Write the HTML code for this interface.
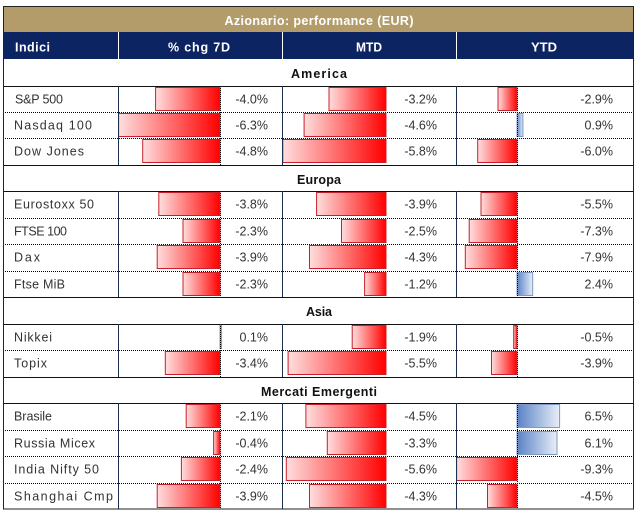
<!DOCTYPE html>
<html><head><meta charset="utf-8"><style>
html,body{margin:0;padding:0;background:#fff;}
svg{display:block;}
.lb{font-family:"Liberation Sans",sans-serif;font-size:12.5px;fill:#333;}
.v{font-family:"Liberation Sans",sans-serif;font-size:12.5px;fill:#333;text-anchor:end;}
.sec{font-family:"Liberation Sans",sans-serif;font-size:12.5px;font-weight:bold;fill:#111;text-anchor:middle;}
.hd{font-family:"Liberation Sans",sans-serif;font-size:12.5px;font-weight:bold;fill:#fff;}
</style></head><body>
<svg width="642" height="514" viewBox="0 0 642 514" xmlns="http://www.w3.org/2000/svg">
<defs>
<linearGradient id="r" x1="0" y1="0" x2="1" y2="0"><stop offset="0" stop-color="#ffdede"/><stop offset="1" stop-color="#ff0000"/></linearGradient>
<linearGradient id="b" x1="0" y1="0" x2="1" y2="0"><stop offset="0" stop-color="#5a82c6"/><stop offset="1" stop-color="#e8eef8"/></linearGradient>
</defs>
<rect x="0" y="0" width="642" height="514" fill="#fff"/>
<!-- title & header -->
<rect x="3" y="6" width="631" height="26" fill="#b39c69"/>
<rect x="3" y="32" width="631" height="27" fill="#0c2461"/>
<line x1="118.5" y1="32" x2="118.5" y2="59" stroke="#fff" stroke-width="1"/>
<line x1="282.5" y1="32" x2="282.5" y2="59" stroke="#fff" stroke-width="1"/>
<line x1="456.5" y1="32" x2="456.5" y2="59" stroke="#fff" stroke-width="1"/>
<text class="hd" x="319" y="25" text-anchor="middle" textLength="189" lengthAdjust="spacing">Azionario: performance (EUR)</text>
<text class="hd" x="15" y="51.5" textLength="35" lengthAdjust="spacing">Indici</text>
<text class="hd" x="199" y="51.5" text-anchor="middle" textLength="62" lengthAdjust="spacing">% chg 7D</text>
<text class="hd" x="369" y="51.5" text-anchor="middle" textLength="26" lengthAdjust="spacingAndGlyphs">MTD</text>
<text class="hd" x="544" y="51.5" text-anchor="middle" textLength="26" lengthAdjust="spacingAndGlyphs">YTD</text>

<!-- section titles -->
<text class="sec" x="319" y="78" textLength="56" lengthAdjust="spacing">America</text>
<text class="sec" x="319" y="184" textLength="44" lengthAdjust="spacing">Europa</text>
<text class="sec" x="319" y="316" textLength="26" lengthAdjust="spacing">Asia</text>
<text class="sec" x="319" y="396" textLength="116" lengthAdjust="spacing">Mercati Emergenti</text>

<!-- bars 7D -->
<g stroke="#c8202a" stroke-width="1" fill="url(#r)">
<rect x="155.6" y="87.5" width="64.4" height="23"/>
<rect x="118.6" y="113.5" width="101.4" height="23"/>
<rect x="142.7" y="139.5" width="77.3" height="23"/>
<rect x="158.8" y="192.5" width="61.2" height="23"/>
<rect x="183" y="219.5" width="37" height="23"/>
<rect x="157.2" y="245.5" width="62.8" height="23"/>
<rect x="183" y="272.5" width="37" height="23"/>
<rect x="165.3" y="351.5" width="54.7" height="23"/>
<rect x="186.2" y="404.5" width="33.8" height="23"/>
<rect x="213.6" y="431.5" width="6.4" height="23"/>
<rect x="181.4" y="457.5" width="38.6" height="23"/>
<rect x="157.2" y="484.5" width="62.8" height="23"/>
</g>
<!-- bars MTD -->
<g stroke="#c8202a" stroke-width="1" fill="url(#r)">
<rect x="329" y="87.5" width="57" height="23"/>
<rect x="304.1" y="113.5" width="81.9" height="23"/>
<rect x="282.8" y="139.5" width="103.2" height="23"/>
<rect x="316.6" y="192.5" width="69.4" height="23"/>
<rect x="341.5" y="219.5" width="44.5" height="23"/>
<rect x="309.5" y="245.5" width="76.5" height="23"/>
<rect x="364.6" y="272.5" width="21.4" height="23"/>
<rect x="352.2" y="325.5" width="33.8" height="23"/>
<rect x="288.1" y="351.5" width="97.9" height="23"/>
<rect x="305.9" y="404.5" width="80.1" height="23"/>
<rect x="327.3" y="431.5" width="58.7" height="23"/>
<rect x="286.3" y="457.5" width="99.7" height="23"/>
<rect x="309.5" y="484.5" width="76.5" height="23"/>
</g>
<!-- bars YTD -->
<g stroke="#c8202a" stroke-width="1" fill="url(#r)">
<rect x="498" y="87.5" width="19" height="23"/>
<rect x="477.7" y="139.5" width="39.3" height="23"/>
<rect x="481" y="192.5" width="36" height="23"/>
<rect x="469.2" y="219.5" width="47.8" height="23"/>
<rect x="465.3" y="245.5" width="51.7" height="23"/>
<rect x="513.7" y="325.5" width="3.3" height="23"/>
<rect x="491.5" y="351.5" width="25.5" height="23"/>
<rect x="456.6" y="457.5" width="60.4" height="23"/>
<rect x="487.5" y="484.5" width="29.5" height="23"/>
</g>
<g stroke="#7f98c4" stroke-width="1" fill="url(#b)">
<rect x="517" y="113.5" width="5.9" height="23"/>
<rect x="517" y="272.5" width="15.7" height="23"/>
<rect x="517" y="404.5" width="42.6" height="23"/>
<rect x="517" y="431.5" width="40" height="23"/>
<rect x="220" y="325.5" width="1.6" height="23"/>
</g>

<!-- axis dotted lines -->
<g stroke="#000" stroke-width="1" stroke-dasharray="1,1">
<line x1="220.5" y1="86" x2="220.5" y2="165"/>
<line x1="220.5" y1="191" x2="220.5" y2="297"/>
<line x1="220.5" y1="324" x2="220.5" y2="377"/>
<line x1="220.5" y1="403" x2="220.5" y2="509"/>
<line x1="517.5" y1="86" x2="517.5" y2="165"/>
<line x1="517.5" y1="191" x2="517.5" y2="297"/>
<line x1="517.5" y1="324" x2="517.5" y2="377"/>
<line x1="517.5" y1="403" x2="517.5" y2="509"/>
</g>

<!-- dotted row separators -->
<g stroke="#000" stroke-width="1" stroke-dasharray="1,1">
<line x1="3" y1="112.5" x2="634" y2="112.5"/>
<line x1="3" y1="138.5" x2="634" y2="138.5"/>
<line x1="3" y1="218.5" x2="634" y2="218.5"/>
<line x1="3" y1="244.5" x2="634" y2="244.5"/>
<line x1="3" y1="271.5" x2="634" y2="271.5"/>
<line x1="3" y1="350.5" x2="634" y2="350.5"/>
<line x1="3" y1="430.5" x2="634" y2="430.5"/>
<line x1="3" y1="456.5" x2="634" y2="456.5"/>
<line x1="3" y1="483.5" x2="634" y2="483.5"/>
</g>
<!-- solid separators -->
<g stroke="#111" stroke-width="1">
<line x1="3" y1="86.5" x2="634" y2="86.5"/>
<line x1="3" y1="165.5" x2="634" y2="165.5"/>
<line x1="3" y1="191.5" x2="634" y2="191.5"/>
<line x1="3" y1="297.5" x2="634" y2="297.5"/>
<line x1="3" y1="324.5" x2="634" y2="324.5"/>
<line x1="3" y1="377.5" x2="634" y2="377.5"/>
<line x1="3" y1="403.5" x2="634" y2="403.5"/>
</g>
<!-- column lines -->
<g stroke="#1b2f4e" stroke-width="1">
<line x1="118.5" y1="86" x2="118.5" y2="165"/><line x1="282.5" y1="86" x2="282.5" y2="165"/><line x1="456.5" y1="86" x2="456.5" y2="165"/>
<line x1="118.5" y1="191" x2="118.5" y2="297"/><line x1="282.5" y1="191" x2="282.5" y2="297"/><line x1="456.5" y1="191" x2="456.5" y2="297"/>
<line x1="118.5" y1="324" x2="118.5" y2="377"/><line x1="282.5" y1="324" x2="282.5" y2="377"/><line x1="456.5" y1="324" x2="456.5" y2="377"/>
<line x1="118.5" y1="403" x2="118.5" y2="509"/><line x1="282.5" y1="403" x2="282.5" y2="509"/><line x1="456.5" y1="403" x2="456.5" y2="509"/>
</g>
<!-- outer border -->
<rect x="3.5" y="6.5" width="630" height="502.5" fill="none" stroke="#222" stroke-width="1"/>

<!-- labels -->
<text class="lb" x="15" y="103.5" textLength="48" lengthAdjust="spacing">S&amp;P 500</text>
<text class="lb" x="14" y="129.5" textLength="78" lengthAdjust="spacing">Nasdaq 100</text>
<text class="lb" x="14" y="155.5" textLength="70" lengthAdjust="spacing">Dow Jones</text>
<text class="lb" x="14" y="208.5" textLength="80" lengthAdjust="spacing">Eurostoxx 50</text>
<text class="lb" x="14" y="235.5" textLength="53" lengthAdjust="spacing">FTSE 100</text>
<text class="lb" x="14" y="261.5" textLength="26" lengthAdjust="spacing">Dax</text>
<text class="lb" x="14" y="288.5" textLength="51" lengthAdjust="spacing">Ftse MiB</text>
<text class="lb" x="14" y="341.5" textLength="38" lengthAdjust="spacing">Nikkei</text>
<text class="lb" x="14" y="367.5" textLength="33" lengthAdjust="spacing">Topix</text>
<text class="lb" x="14" y="420.5" textLength="38" lengthAdjust="spacing">Brasile</text>
<text class="lb" x="14" y="447.5" textLength="81" lengthAdjust="spacing">Russia Micex</text>
<text class="lb" x="14" y="473.5" textLength="85" lengthAdjust="spacing">India Nifty 50</text>
<text class="lb" x="14" y="500.5" textLength="99" lengthAdjust="spacing">Shanghai Cmp</text>

<!-- values 7D -->
<text class="v" x="268" y="103.5">-4.0%</text>
<text class="v" x="268" y="129.5">-6.3%</text>
<text class="v" x="268" y="155.5">-4.8%</text>
<text class="v" x="268" y="208.5">-3.8%</text>
<text class="v" x="268" y="235.5">-2.3%</text>
<text class="v" x="268" y="261.5">-3.9%</text>
<text class="v" x="268" y="288.5">-2.3%</text>
<text class="v" x="268" y="341.5">0.1%</text>
<text class="v" x="268" y="367.5">-3.4%</text>
<text class="v" x="268" y="420.5">-2.1%</text>
<text class="v" x="268" y="447.5">-0.4%</text>
<text class="v" x="268" y="473.5">-2.4%</text>
<text class="v" x="268" y="500.5">-3.9%</text>
<!-- values MTD -->
<text class="v" x="437" y="103.5">-3.2%</text>
<text class="v" x="437" y="129.5">-4.6%</text>
<text class="v" x="437" y="155.5">-5.8%</text>
<text class="v" x="437" y="208.5">-3.9%</text>
<text class="v" x="437" y="235.5">-2.5%</text>
<text class="v" x="437" y="261.5">-4.3%</text>
<text class="v" x="437" y="288.5">-1.2%</text>
<text class="v" x="437" y="341.5">-1.9%</text>
<text class="v" x="437" y="367.5">-5.5%</text>
<text class="v" x="437" y="420.5">-4.5%</text>
<text class="v" x="437" y="447.5">-3.3%</text>
<text class="v" x="437" y="473.5">-5.6%</text>
<text class="v" x="437" y="500.5">-4.3%</text>
<!-- values YTD -->
<text class="v" x="613" y="103.5">-2.9%</text>
<text class="v" x="613" y="129.5">0.9%</text>
<text class="v" x="613" y="155.5">-6.0%</text>
<text class="v" x="613" y="208.5">-5.5%</text>
<text class="v" x="613" y="235.5">-7.3%</text>
<text class="v" x="613" y="261.5">-7.9%</text>
<text class="v" x="613" y="288.5">2.4%</text>
<text class="v" x="613" y="341.5">-0.5%</text>
<text class="v" x="613" y="367.5">-3.9%</text>
<text class="v" x="613" y="420.5">6.5%</text>
<text class="v" x="613" y="447.5">6.1%</text>
<text class="v" x="613" y="473.5">-9.3%</text>
<text class="v" x="613" y="500.5">-4.5%</text>
</svg>
</body></html>
